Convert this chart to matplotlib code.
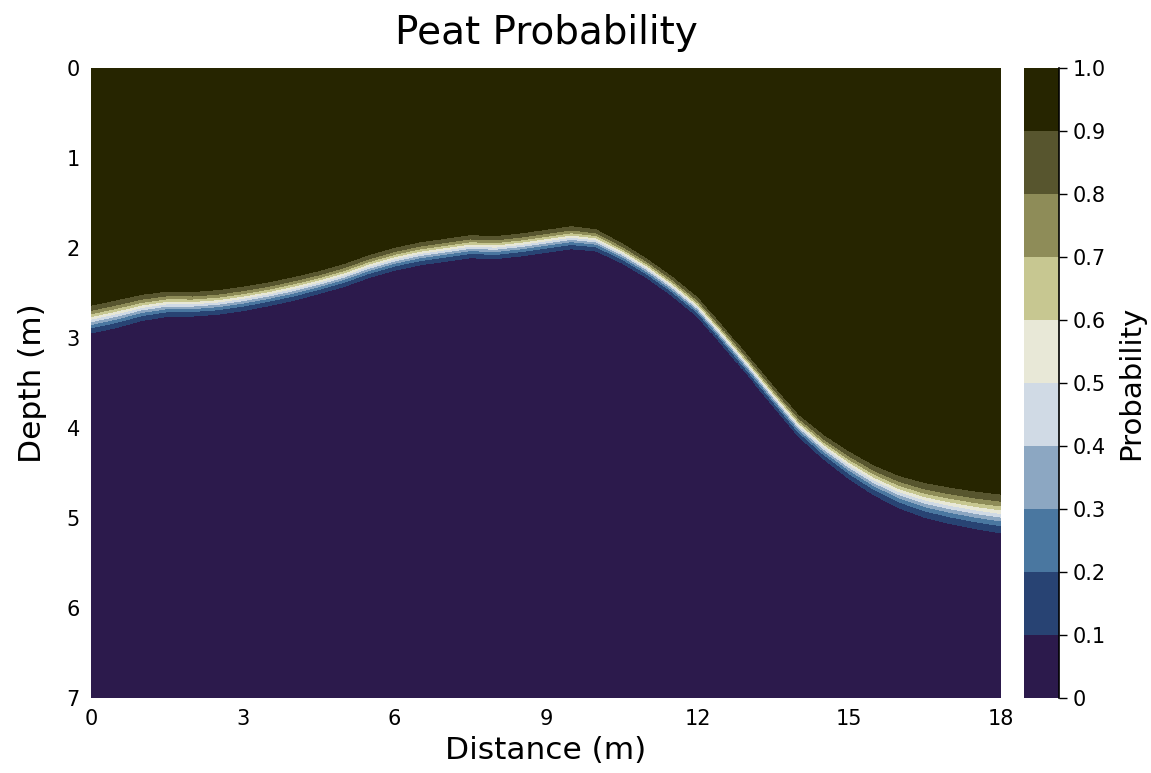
import numpy as np
import matplotlib
matplotlib.use("Agg")
import matplotlib.pyplot as plt
from matplotlib.colors import ListedColormap, BoundaryNorm

# peat / non-peat boundary (depth where probability = 0.5)
dist = [0.0, 0.5, 1.0, 1.5, 2.0, 2.5, 3.0, 3.5, 4.0, 4.5, 5.0, 5.5, 6.0,
        6.5, 7.0, 7.5, 8.0, 8.5, 9.0, 9.5, 10.0, 10.5, 11.0, 11.5, 12.0,
        12.5, 13.0, 13.5, 14.0, 14.5, 15.0, 15.5, 16.0, 16.5, 17.0, 17.5, 18.0]
boundary = [2.79, 2.73, 2.66, 2.62, 2.62, 2.60, 2.56, 2.51, 2.45, 2.38, 2.30,
            2.20, 2.12, 2.06, 2.02, 1.98, 1.99, 1.96, 1.92, 1.88, 1.91, 2.05,
            2.22, 2.42, 2.65, 2.97, 3.30, 3.64, 3.97, 4.21, 4.41, 4.58, 4.71,
            4.80, 4.86, 4.91, 4.95]
# transition width (m) of the probability band along the profile
width = [0.07, 0.07, 0.066, 0.064, 0.062, 0.062, 0.062, 0.06, 0.06, 0.058,
         0.058, 0.058, 0.058, 0.058, 0.058, 0.058, 0.058, 0.058, 0.058,
         0.058, 0.056, 0.052, 0.05, 0.05, 0.05, 0.05, 0.05, 0.052, 0.055,
         0.062, 0.07, 0.076, 0.082, 0.088, 0.092, 0.095, 0.098]

levels = [0, 0.1, 0.2, 0.3, 0.4, 0.5, 0.6, 0.7, 0.8, 0.9, 1.0]
level_labels = ["0", "0.1", "0.2", "0.3", "0.4", "0.5", "0.6", "0.7", "0.8", "0.9", "1.0"]
colors = ["#2C1A4C", "#284373", "#4A77A0", "#8CA7C2", "#D0DAE5",
          "#E8E8D7", "#C7C791", "#8E8C58", "#57552E", "#262500"]

xg = np.linspace(0, 18, 181)
zg = np.linspace(0, 7, 281)
b = np.interp(xg, dist, boundary)
w = np.interp(xg, dist, width)
X, Z = np.meshgrid(xg, zg)
prob = 1.0 / (1.0 + np.exp((Z - b[None, :]) / w[None, :]))

cmap = ListedColormap(colors)
norm = BoundaryNorm(levels, cmap.N)

fig = plt.figure(figsize=(11.51, 7.73), dpi=100)
W, H = 1151, 773
ax = fig.add_axes([91 / W, 75 / H, 910 / W, 630 / H])
cax = fig.add_axes([1024 / W, 75 / H, 35 / W, 630 / H])

cs = ax.contourf(X, Z, prob, levels=levels, cmap=cmap, norm=norm)
ax.set_xlim(0, 18)
ax.set_ylim(7, 0)
ax.set_xticks([0, 3, 6, 9, 12, 15, 18])
ax.set_yticks(range(0, 8))
ax.tick_params(length=0, labelsize=15, pad=8)
for s in ax.spines.values():
    s.set_visible(False)
ax.set_xlabel("Distance (m)", fontsize=22.5, labelpad=5)
ax.set_ylabel("Depth (m)", fontsize=22.5, labelpad=14)
ax.set_title("Peat Probability", fontsize=28, pad=17)

cb = fig.colorbar(cs, cax=cax, ticks=levels)
cb.ax.set_yticklabels(level_labels)
cb.outline.set_visible(False)
cb.ax.plot([1, 1], [0, 1], transform=cb.ax.transAxes, color="k", lw=1.2, clip_on=False)
cb.ax.tick_params(labelsize=15, length=6, width=1, direction="out", pad=4)
cb.set_label("Probability", fontsize=21, labelpad=8)

fig.savefig("out.png", dpi=100)
